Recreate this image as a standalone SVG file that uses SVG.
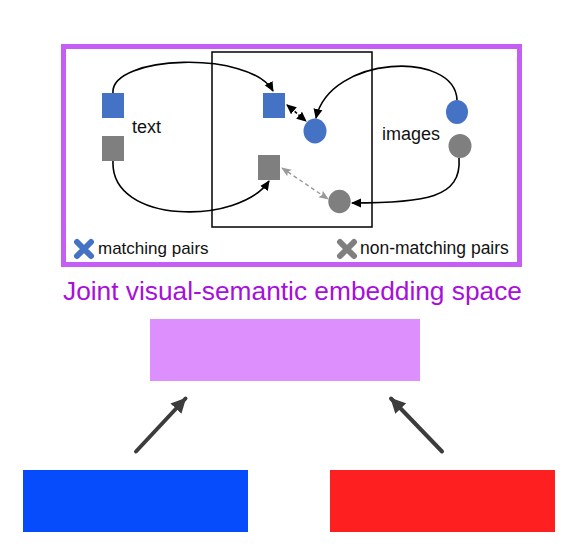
<svg xmlns="http://www.w3.org/2000/svg" width="572" height="549" viewBox="0 0 572 549">
<style>
.lbl{font-family:"Liberation Sans",Arial,sans-serif;fill:#111;}
.blue{fill:#4472c4;}
.grey{fill:#7f7f7f;}
.conn{fill:none;stroke:#000;stroke-width:1.6;}
.big{stroke:#3c3c3c;stroke-width:4;stroke-linecap:round;}
</style>
<defs>
<marker id="ah" markerUnits="userSpaceOnUse" markerWidth="10" markerHeight="10" viewBox="0 0 10 10" refX="9" refY="5" orient="auto-start-reverse"><path d="M0,0.5 L10,5 L0,9.5 Z" fill="#000"/></marker>
<marker id="ahg" markerUnits="userSpaceOnUse" markerWidth="10" markerHeight="10" viewBox="0 0 10 10" refX="9" refY="5" orient="auto-start-reverse"><path d="M0,1 L10,5 L0,9 L2,5 Z" fill="#999"/></marker>
<marker id="bah" markerUnits="userSpaceOnUse" markerWidth="16" markerHeight="16" viewBox="0 0 16 16" refX="14" refY="8" orient="auto"><path d="M0,0.5 L15,8 L0,15.5 Z" fill="#3c3c3c"/></marker>
</defs>

<g id="frame">
<rect x="63.5" y="46.5" width="456" height="218" fill="#fff" stroke="#c55ef5" stroke-width="5"/>
<rect x="212" y="52" width="160" height="175" fill="none" stroke="#000" stroke-width="1.5"/>
</g>

<g id="text-nodes">
<rect class="blue" x="102" y="93" width="22" height="25"/>
<rect class="grey" x="102" y="136" width="22" height="25"/>
<text class="lbl" x="132" y="133" font-size="18">text</text>
</g>

<g id="image-nodes">
<ellipse class="blue" cx="457" cy="112" rx="11" ry="12"/>
<ellipse class="grey" cx="460" cy="146" rx="11.5" ry="12"/>
<text class="lbl" x="382" y="140" font-size="18">images</text>
</g>

<g id="embedded-nodes">
<rect class="blue" x="263" y="93" width="22" height="25"/>
<rect class="grey" x="258" y="155" width="22" height="25"/>
<ellipse class="blue" cx="315" cy="131" rx="11.5" ry="12.5"/>
<ellipse class="grey" cx="339.5" cy="201.5" rx="11.2" ry="11.7"/>
</g>

<g id="connectors">
<path class="conn" d="M113,93 C110,55 250,50 273,91" marker-end="url(#ah)"/>
<path class="conn" d="M113,161 C110,225 240,225 269,181" marker-end="url(#ah)"/>
<path class="conn" d="M457,100 C455,50 330,55 316,118" marker-end="url(#ah)"/>
<path class="conn" d="M459,158 C462,198 425,203 352,203" marker-end="url(#ah)"/>
<line class="conn" x1="287" y1="105" x2="306" y2="121" stroke-dasharray="3,2" marker-start="url(#ah)" marker-end="url(#ah)"/>
<line x1="282" y1="168" x2="328" y2="199" fill="none" stroke="#999" stroke-width="1.4" stroke-dasharray="4,3" marker-start="url(#ahg)" marker-end="url(#ahg)"/>
<line class="big" x1="136" y1="451.5" x2="185.5" y2="398.5" marker-end="url(#bah)"/>
<line class="big" x1="442" y1="451.5" x2="391" y2="398.5" marker-end="url(#bah)"/>
</g>

<g id="legend">
<path d="M77,242 L91,256 M91,242 L77,256" stroke="#4472c4" stroke-width="6" stroke-linecap="round"/>
<text class="lbl" x="98" y="254" font-size="17">matching pairs</text>
<path d="M340,242 L354,256 M354,242 L340,256" stroke="#7f7f7f" stroke-width="6" stroke-linecap="round"/>
<text class="lbl" x="360" y="254" font-size="17.5">non-matching pairs</text>
</g>

<g id="embedding">
<text x="292.5" y="300" text-anchor="middle" font-family="Liberation Sans,Arial,sans-serif" font-size="26.3" fill="#a70fdc">Joint visual-semantic embedding space</text>
<rect x="150" y="319" width="270" height="62" fill="#dd8ffd"/>
</g>

<g id="text-encoder"><rect x="23" y="470" width="225" height="62" fill="#064cfd"/></g>
<g id="image-encoder"><rect x="330" y="470" width="225" height="62" fill="#fe2020"/></g>
</svg>
